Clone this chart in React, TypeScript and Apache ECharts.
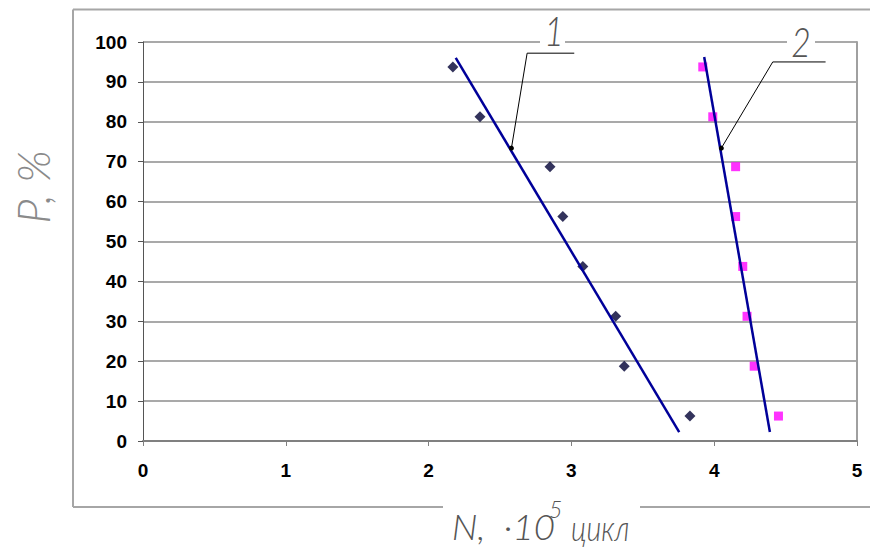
import React, { useEffect, useRef } from "react";
import * as echarts from "echarts";

// Median-rank probability P, %
const pValues = [93.75, 81.25, 68.75, 56.25, 43.75, 31.25, 18.75, 6.25];
// Durability N, x10^5 cycles
const n1Values = [2.17, 2.36, 2.85, 2.94, 3.08, 3.31, 3.37, 3.83];
const n2Values = [3.92, 3.99, 4.15, 4.15, 4.2, 4.23, 4.28, 4.45];
// Trend line endpoints [N, P]
const trend1 = [
  [2.19, 96],
  [3.755, 2.25],
];
const trend2 = [
  [3.93, 96.25],
  [4.39, 2.25],
];
// Leader lines for labels "1" and "2" [N, P]
const leader1 = [
  [2.58, 73.4],
  [2.69, 97.2],
  [3.02, 97.2],
];
const leader2 = [
  [4.05, 73.4],
  [4.41, 95],
  [4.78, 95],
];
const xTicks = { min: 0, max: 5, interval: 1 };
const yTicks = { min: 0, max: 100, interval: 10 };

const labelFont = "'Liberation Sans', Arial, sans-serif";
const handFont = "Lato, 'DejaVu Sans', sans-serif";

function leaderData(pts: number[][]) {
  return pts.map((p, i) =>
    i === 0
      ? { value: p, symbol: "circle", symbolSize: 5 }
      : { value: p, symbol: "none" }
  );
}

function handText(
  text: string,
  x: number,
  y: number,
  size: number,
  align: string,
  fill: string,
  scaleX = 1,
  rotation = 0
) {
  return {
    type: "text",
    z: 70,
    x,
    y,
    scaleX,
    rotation,
    style: {
      text,
      fill,
      fontFamily: handFont,
      fontStyle: "italic",
      fontWeight: 300,
      fontSize: size,
      align,
      verticalAlign: "middle",
    },
  };
}

export default function App() {
  const ref = useRef<HTMLDivElement>(null);
  useEffect(() => {
    if (!ref.current) return;
    const chart = echarts.init(ref.current, undefined, { renderer: "svg" });
    const borderColor = "#a6a6a6";
    chart.setOption({
      animation: false,
      backgroundColor: "#ffffff",
      grid: { left: 143, right: 13, top: 42, bottom: 109 },
      xAxis: {
        type: "value",
        ...xTicks,
        axisLine: { show: true, onZero: false, lineStyle: { color: "#808080", width: 2 } },
        axisTick: { show: true, length: 5, lineStyle: { color: "#808080", width: 1 } },
        axisLabel: {
          color: "#000",
          fontFamily: labelFont,
          fontWeight: "bold",
          fontSize: 19,
          margin: 20,
        },
        splitLine: { show: false },
      },
      yAxis: [
        {
          type: "value",
          ...yTicks,
          axisLine: { show: true, lineStyle: { color: "#555", width: 1 } },
          axisTick: { show: true, length: 5, lineStyle: { color: "#555", width: 1 } },
          axisLabel: {
            color: "#000",
            fontFamily: labelFont,
            fontWeight: "bold",
            fontSize: 19,
            margin: 16,
          },
          splitLine: { show: true, lineStyle: { color: "#8c8c8c", width: 1.5 } },
        },
        {
          type: "value",
          position: "right",
          ...yTicks,
          axisLine: { show: true, lineStyle: { color: "#a0a0a0", width: 2 } },
          axisTick: { show: false },
          axisLabel: { show: false },
          splitLine: { show: false },
        },
      ],
      series: [
        {
          type: "scatter",
          symbol: "diamond",
          symbolSize: 11,
          itemStyle: { color: "#000033" },
          data: n1Values.map((n, i) => [n, pValues[i]]),
          z: 3,
        },
        {
          type: "scatter",
          symbol: "rect",
          symbolSize: 9,
          itemStyle: { color: "#ff00ff" },
          data: n2Values.map((n, i) => [n, pValues[i]]),
          z: 3,
        },
        {
          type: "line",
          data: trend1,
          symbol: "none",
          lineStyle: { color: "#000099", width: 2.5 },
          z: 4,
        },
        {
          type: "line",
          data: trend2,
          symbol: "none",
          lineStyle: { color: "#000099", width: 2.5 },
          z: 4,
        },
        {
          type: "line",
          data: leaderData(leader1),
          itemStyle: { color: "#000" },
          lineStyle: { color: "#000", width: 1 },
          z: 5,
        },
        {
          type: "line",
          data: leaderData(leader2),
          itemStyle: { color: "#000" },
          lineStyle: { color: "#000", width: 1 },
          z: 5,
        },
      ],
      graphic: [
        // outer chart frame
        { type: "line", z: 50, shape: { x1: 73, y1: 9.5, x2: 870, y2: 9.5 }, style: { stroke: borderColor, lineWidth: 2 } },
        { type: "line", z: 50, shape: { x1: 73, y1: 9.5, x2: 73, y2: 507 }, style: { stroke: borderColor, lineWidth: 2 } },
        { type: "line", z: 50, shape: { x1: 73, y1: 507, x2: 443, y2: 507 }, style: { stroke: borderColor, lineWidth: 2 } },
        { type: "line", z: 50, shape: { x1: 640, y1: 507, x2: 870, y2: 507 }, style: { stroke: borderColor, lineWidth: 2 } },
        // gaps in the top gridline behind labels
        { type: "rect", z: 60, shape: { x: 540, y: 37, width: 25, height: 10 }, style: { fill: "#fff" } },
        { type: "rect", z: 60, shape: { x: 787, y: 37, width: 28, height: 10 }, style: { fill: "#fff" } },
        handText("1", 554, 29, 42, "center", "#555", 0.8),
        handText("2", 801, 40, 42, "center", "#555", 0.8),
        // x-axis title: N, ·10^5 цикл
        handText("N,  ·10", 555, 527, 35, "right", "#555", 1.05),
        handText("5", 549, 509, 23, "left", "#555", 1),
        handText("цикл", 571, 527, 35, "left", "#555", 0.82),
        // y-axis title
        handText("P, %", 33, 187, 45, "center", "#8a8a8a", 1, Math.PI / 2),
      ],
    });
    return () => chart.dispose();
  }, []);
  return (
    <div
      ref={ref}
      style={{ position: "fixed", left: 0, top: 0, width: 870, height: 550 }}
    />
  );
}
